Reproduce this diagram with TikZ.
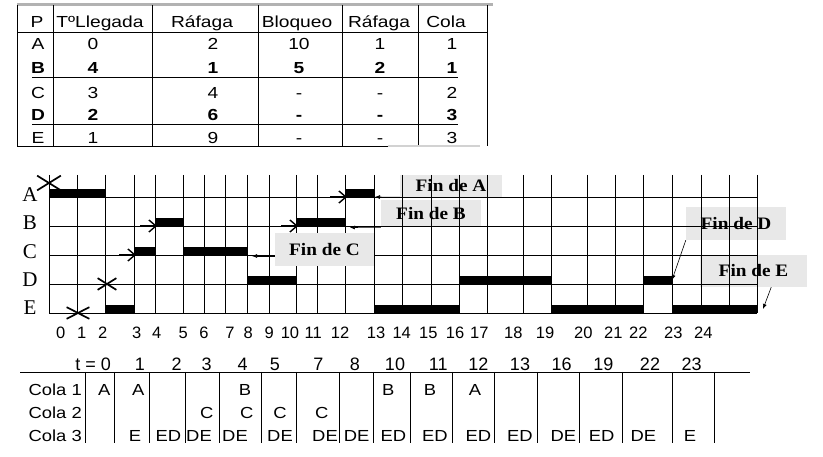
\documentclass[tikz,border=0pt]{standalone}
\usepackage{fontspec}
\setmainfont{Liberation Serif}
\newfontfamily\tabfont[FakeStretch=1.2]{Liberation Sans}
\newfontfamily\colafont[FakeStretch=1.15]{Liberation Sans}
\newfontfamily\axisfont{Liberation Sans}
\newfontfamily\finfont[FakeStretch=1.1]{Liberation Serif}
\usepackage{tikz}
\usetikzlibrary{calc,arrows.meta,shapes.misc}
\definecolor{boxgray}{RGB}{232,232,232}

\begin{document}
\begin{tikzpicture}[
        x=1pt, y=-1pt,
        cell/.style={font=\tabfont\fontsize{16}{16}\selectfont, inner sep=0pt, anchor=base},
        boldcell/.style={cell, font=\tabfont\bfseries\fontsize{16}{16}\selectfont},
        proc/.style={font=\fontsize{21}{21}\selectfont, inner sep=0pt, anchor=base},
        axis/.style={font=\axisfont\fontsize{16.5}{16.5}\selectfont, inner sep=0pt, anchor=base},
        tick/.style={font=\axisfont\fontsize{18}{18}\selectfont, inner sep=0pt, anchor=base},
        qcell/.style={font=\colafont\fontsize{16}{16}\selectfont, inner sep=0pt, anchor=base},
        fin/.style={
            rectangle, fill=boxgray, font=\finfont\bfseries\fontsize{17.5}{17.5}\selectfont,
            text centered, inner sep=0pt
        },
        bar/.style={fill=black},
        xmark/.style={cross out, draw, line width=1.7pt, inner sep=0pt},
        arrive/.style={-{Straight Barb[length=7pt,width=12pt,line width=1.4pt]}, line width=1pt},
        finarrow/.style={-{Latex[length=5pt,width=4pt]}, line width=0.6pt}
    ]
    \useasboundingbox (0,0) rectangle (823,457);

    % Table of processes
    \draw[gray!60, line width=3pt] (17,5) -- (493,5);
    \foreach \x in {17,53,152,258,342,418,487}
        \draw[line width=0.8pt] (\x,5) -- (\x,146);
    \draw[line width=0.8pt] (17,32) -- (487,32);
    \draw[line width=0.8pt] (32,77) -- (458,77);
    \draw[line width=0.8pt] (32,124) -- (458,124);
    \draw[line width=0.8pt] (17,146) -- (388,146);
    \draw[gray!35, line width=1.5pt] (388,146) -- (480,146);

    \foreach \x/\t [count=\i] in {37/P, 100/TºLlegada, 202/Ráfaga, 297/Bloqueo, 379/Ráfaga, 446/Cola}
        \node[cell] (hd\i) at (\x,27.5) {\t};

    \foreach \p/\y/\st/\a/\b/\c/\d/\e in {A/50/cell/0/2/10/1/1, B/73.3/boldcell/4/1/5/2/1,
            C/98.3/cell/3/4/-/-/2, D/120.7/boldcell/2/6/-/-/3, E/144/cell/1/9/-/-/3} {
        \node[\st] (p\p) at (38,\y) {\p};
        \node[\st] (ll\p) at (93,\y) {\a};
        \node[\st] (ra\p) at (213,\y) {\b};
        \node[\st] (bl\p) at (299,\y) {\c};
        \node[\st] (rb\p) at (380,\y) {\d};
        \node[\st] (co\p) at (452,\y) {\e};
    }

    % Labels for the end of each process
    \node[fin, minimum width=102pt, minimum height=22pt] (finA) at (451,186) {Fin de A};
    \node[fin, minimum width=100pt, minimum height=27pt] (finB) at (431,214) {Fin de B};
    \node[fin, minimum width=100pt, minimum height=33pt] (finD) at (736,223.5) {Fin de D};
    \node[fin, minimum width=107pt, minimum height=32pt] (finE) at (753.5,271) {Fin de E\hspace{12pt}};

    % Gantt grid
    \foreach \x in {49,77.7,105.7,134.3,155.7,183.7,204.3,225.7,247,269,296.3,317,345.7,
            374.3,402.3,431,459.7,487.7,523,551,587,615,643.7,672.3,701,729,757}
        \draw[line width=0.7pt] (\x,175) -- (\x,313);
    \foreach \y in {197,226,255,284,313}
        \draw[line width=0.7pt] (49,\y) -- (757,\y);

    \node[fin, minimum width=99pt, minimum height=33pt] (finC) at (324.5,249.5) {Fin de C};

    \foreach \p/\y in {A/201.5, B/230, C/259, D/287, E/315}
        \node[proc] (row\p) at (30,\y) {\p};

    % Bursts
    \foreach \a/\b/\y in {49/105.7/197, 345.7/374.3/197,
            155.7/183.7/226, 296.3/345.7/226,
            134.3/155.7/255, 183.7/247/255,
            247/296.3/284, 459.7/551/284, 643.7/672.3/284,
            105.7/134.3/313, 374.3/459.7/313, 551/643.7/313, 672.3/757/313}
        \fill[bar] (\a,\y-8) rectangle (\b,\y+1);

    % Arrivals
    \node[xmark, minimum width=22pt, minimum height=13pt] (xA) at (49,183) {};
    \node[xmark, minimum width=21pt, minimum height=10pt] (xE) at (78,313) {};
    \node[xmark, minimum width=17pt, minimum height=10pt] (xD) at (107,284) {};

    \coordinate (sA) at (330,197);  \coordinate (tA) at (347,197);
    \coordinate (sB1) at (140,226); \coordinate (tB1) at (157,226);
    \coordinate (sB2) at (281,226); \coordinate (tB2) at (298,226);
    \coordinate (sC) at (119,255);  \coordinate (tC) at (136,255);
    \draw[arrive] (sA) -- (tA);
    \draw[arrive] (sB1) -- (tB1);
    \draw[arrive] (sB2) -- (tB2);
    \draw[arrive] (sC) -- (tC);

    % Ends of the processes
    \coordinate (endA) at (375,197);
    \coordinate (endB) at (350,227.5);
    \coordinate (endC) at (252,256);
    \coordinate (endD) at (672,280);
    \coordinate (endE) at (763,309);
    \draw[finarrow] (finA.south west) -- (endA);
    \draw[finarrow] (finB.south west) -- (endB);
    \draw[finarrow] (finC.west |- endC) -- (endC);
    \draw[finarrow] (finD.south west) -- (endD);
    \draw[finarrow] ($(finE.south)!0.33!(finE.south east)$) -- (endE);

    % Time axis
    \foreach \x/\t in {60.7/0, 81.7/1, 102.7/2, 136.7/3, 156.7/4, 183.3/5, 204/6, 230/7,
            248.3/8, 269.3/9, 290/10, 313.3/11, 340/12, 376/13, 401.7/14, 428.3/15,
            455/16, 479.3/17, 513.3/18, 545/19, 583.3/20, 613.3/21, 638.3/22, 673.3/23, 703.3/24}
        \node[axis] (ax\t) at (\x,338.5) {\t};

    % Queues
    \node[tick, anchor=base east] (t0) at (111,370.5) {t = 0};
    \foreach \x/\t in {140/1, 176.7/2, 206.7/3, 242.7/4, 275/5, 318.3/7, 355/8, 395/10,
            438.3/11, 478.3/12, 520/13, 561.7/16, 603.3/19, 650/22, 691.7/23}
        \node[tick] (t\t) at (\x,370.5) {\t};
    \draw[line width=0.8pt] (20,372) -- (750,372);
    \foreach \x in {85.7,114.3,149,185,219,261,296.3,339,373.7,410,452.3,494.7,537.3,
            579.3,622.3,672.3,714.3}
        \draw[line width=0.8pt] (\x,372) -- (\x,443);

    \foreach \n/\y in {1/395.7, 2/419, 3/441.7}
        \node[qcell, anchor=base east] (cola\n) at (82,\y) {Cola \n};

    \foreach \x/\t [count=\i] in {104.3/A, 138.3/A, 245/B, 388.3/B, 430/B, 475/A}
        \node[qcell] (qa\i) at (\x,395.7) {\t};
    \foreach \x/\t [count=\i] in {206.7/C, 246.7/C, 280/C, 321.7/C}
        \node[qcell] (qb\i) at (\x,419) {\t};
    \foreach \x/\t [count=\i] in {135/E, 168.3/ED, 199/DE, 235/DE, 280/DE, 325/DE, 356.7/DE,
            393.3/ED, 435/ED, 478.3/ED, 520/ED, 563.3/DE, 601.7/ED, 643.3/DE, 690/E}
        \node[qcell] (qc\i) at (\x,441.7) {\t};

\end{tikzpicture}
\end{document}
